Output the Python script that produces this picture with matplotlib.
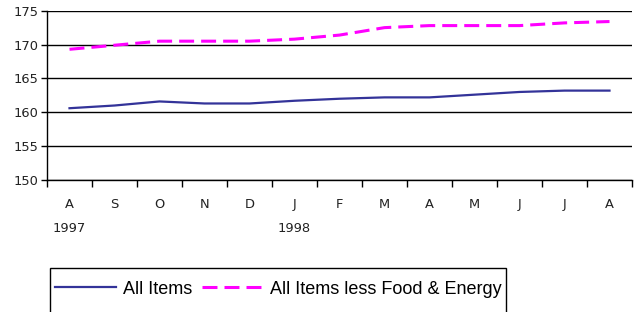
import numpy as np
import matplotlib
matplotlib.use("Agg")
import matplotlib.pyplot as plt
from matplotlib.lines import Line2D
from matplotlib.patches import Rectangle

months = ["A", "S", "O", "N", "D", "J", "F", "M", "A", "M", "J", "J", "A"]
years = {0: "1997", 5: "1998"}
all_items = [160.6, 161.0, 161.6, 161.3, 161.3, 161.7, 162.0, 162.2, 162.2, 162.6, 163.0, 163.2, 163.2]
core = [169.3, 169.9, 170.5, 170.5, 170.5, 170.8, 171.4, 172.5, 172.8, 172.8, 172.8, 173.2, 173.4]

W, H = 634, 312
fig = plt.figure(figsize=(W / 100, H / 100), dpi=100)
ax = fig.add_axes([47 / W, 1 - 180 / H, (632 - 47) / W, (180 - 10.7) / H])

x = np.arange(len(months))
ax.plot(x, all_items, color="#333399", lw=1.6)
ax.plot(x, core, color="#ff00ff", lw=2.2, dashes=(4.9, 2.3))

ax.set_ylim(150, 175)
ax.set_xlim(-0.5, len(months) - 0.5)
ax.set_yticks(np.arange(150, 176, 5))
ax.grid(axis="y", color="black", lw=1)
ax.set_axisbelow(True)

ax.set_xticks(np.arange(-0.5, len(months), 1))
ax.set_xticklabels([])
ax.set_xticks(x, minor=True)
ax.set_xticklabels(months, minor=True)
ax.tick_params(axis="x", which="major", direction="out", length=5, width=1, color="black")
ax.tick_params(axis="x", which="minor", length=0, pad=13, labelsize=9.4, labelcolor="#222222")
ax.tick_params(axis="y", direction="out", length=4, width=1, labelsize=9.4, labelcolor="#222222", pad=2)

for s in ["top", "right"]:
    ax.spines[s].set_visible(False)
for s in ["left", "bottom"]:
    ax.spines[s].set_color("black")
    ax.spines[s].set_linewidth(1)

for i, yr in years.items():
    ax.text(i, -0.285, yr, transform=ax.get_xaxis_transform(), ha="center", va="center",
            fontsize=9.4, color="#222222")

# legend box runs off the bottom edge, like the original
fig.patches.append(Rectangle((50 / W, -0.05), (506 - 50) / W, 0.05 + 1 - 268 / H,
                             transform=fig.transFigure, fill=False, edgecolor="black", lw=1))
handles = [Line2D([], [], color="#333399", lw=1.6),
           Line2D([], [], color="#ff00ff", lw=2.2, dashes=(4.9, 2.3))]
fig.legend(handles, ["All Items", "All Items less Food & Energy"], ncol=2, frameon=False,
           loc="center left", bbox_to_anchor=(55 / W, 1 - 289 / H),
           prop={"family": "Liberation Sans", "size": 13}, handlelength=3.4, handletextpad=0.35,
           columnspacing=0.55, borderaxespad=0, borderpad=0)

fig.savefig("out.png", dpi=100)
